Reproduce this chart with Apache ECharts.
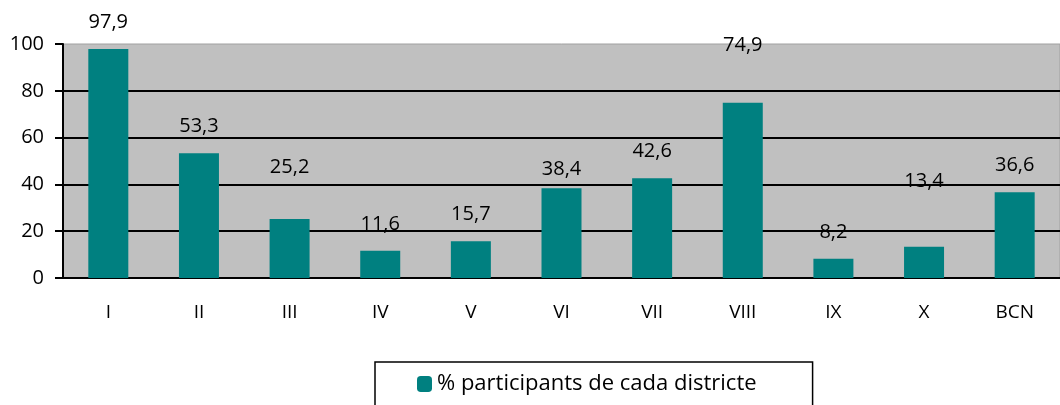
<!DOCTYPE html>
<html>
<head>
  <meta charset="utf-8">
  <script src="https://cdn.jsdelivr.net/npm/echarts@6/dist/echarts.min.js"></script>
  <style>
    html, body { margin: 0; padding: 0; background: #fff; }
    #chart { width: 1060px; height: 405px; }
  </style>
</head>
<body>
  <div id="chart"></div>
  <script>
    // districtes
    const districts = ['I', 'II', 'III', 'IV', 'V', 'VI', 'VII', 'VIII', 'IX', 'X', 'BCN'];
    const participants = [97.9, 53.3, 25.2, 11.6, 15.7, 38.4, 42.6, 74.9, 8.2, 13.4, 36.6];
    const seriesName = '% participants de cada districte';

    // etiquetes que no queden just a sobre de la barra
    const labelLift = { 2: 25, 5: -8, 7: 30, 9: 38 };

    const font = '"Open Sans", sans-serif';
    const chart = echarts.init(document.getElementById('chart'));

    const barData = participants.map((v, i) => ({
      value: v,
      label: { offset: [0, -(labelLift[i] || 0)] }
    }));

    chart.setOption({
      animation: false,
      backgroundColor: '#fff',
      textStyle: { fontFamily: font },
      grid: {
        left: 63, top: 44, width: 1006, height: 234,
        show: true,
        backgroundColor: '#c0c0c0',
        borderColor: '#a0a0a0',
        borderWidth: 1
      },
      legend: {
        data: [seriesName],
        left: 375, top: 362,
        padding: [11, 56, 30, 42],
        itemWidth: 15, itemHeight: 16,
        borderColor: '#000', borderWidth: 1.5,
        textStyle: { fontSize: 22, color: '#000', fontFamily: font }
      },
      xAxis: {
        type: 'category',
        data: districts,
        axisLine: { lineStyle: { color: '#000', width: 2 } },
        axisTick: { length: 8, lineStyle: { color: '#000', width: 2 } },
        axisLabel: { color: '#000', fontSize: 19, margin: 25, fontFamily: font }
      },
      yAxis: {
        type: 'value',
        min: 0, max: 100, interval: 20,
        axisLine: { show: true, lineStyle: { color: '#000', width: 2 } },
        axisTick: { show: true, length: 8, lineStyle: { color: '#000', width: 2 } },
        axisLabel: { color: '#000', fontSize: 20, margin: 19, fontFamily: font },
        splitLine: { show: true, showMaxLine: false, lineStyle: { color: '#000', width: 2 } }
      },
      series: [{
        name: seriesName,
        type: 'bar',
        data: barData,
        barWidth: 40,
        itemStyle: { color: '#008080' },
        label: {
          show: true,
          position: 'top',
          distance: 17,
          color: '#000',
          fontSize: 20,
          fontFamily: font,
          formatter: p => String(p.value).replace('.', ',')
        }
      }]
    });
  </script>
</body>
</html>
